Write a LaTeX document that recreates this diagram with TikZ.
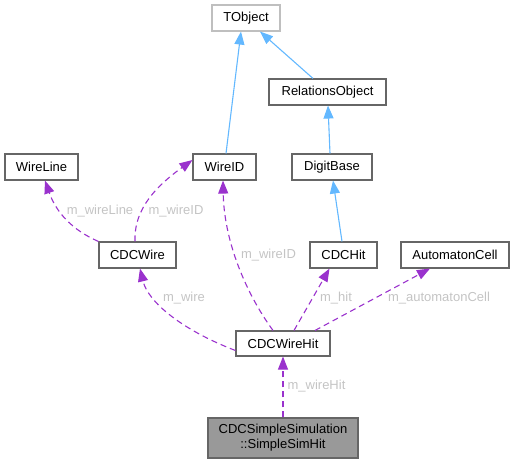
\documentclass[tikz,border=0pt]{standalone}
\usepackage{fontspec}
\setmainfont{Liberation Sans}
\usetikzlibrary{arrows.meta}
\definecolor{inh}{HTML}{63B8FF}
\definecolor{use}{HTML}{9A32CD}
\definecolor{lbl}{HTML}{C4C4C4}
\definecolor{bord}{HTML}{666666}
\definecolor{tbord}{HTML}{BFBFBF}
\begin{document}
\begin{tikzpicture}[x=1pt,y=-1pt,
  cls/.style={draw=bord,line width=1.1pt,fill=white,inner sep=0pt,minimum height=26pt,font=\fontsize{13}{15}\selectfont},
  inhedge/.style={draw=inh,line width=1.1pt,-{Triangle[length=13pt,width=10pt]}},
  useedge/.style={draw=use,line width=1.1pt,dash pattern=on 6pt off 4pt,-{Triangle[length=13pt,width=10pt,fill=use]}},
  elabel/.style={text=lbl,font=\fontsize{13}{15}\selectfont,inner sep=0pt}]
\useasboundingbox (0,0) rectangle (515,464);
\node[cls,draw=tbord,minimum width=68pt] (tob) at (246,18) {TObject};
\node[cls,minimum width=117pt] (rel) at (327.5,92) {RelationsObject};
\node[cls,minimum width=73pt] (wl) at (41.5,167) {WireLine};
\node[cls,minimum width=63pt] (wid) at (224.5,167) {WireID};
\node[cls,minimum width=80pt] (db) at (332,167) {DigitBase};
\node[cls,minimum width=77pt] (cw) at (137.5,255) {CDCWire};
\node[cls,minimum width=67pt] (ch) at (343.5,255) {CDCHit};
\node[cls,minimum width=108pt] (ac) at (455,255) {AutomatonCell};
\node[cls,minimum width=94pt,minimum height=25pt] (cwh) at (283,343.5) {CDCWireHit};
\node[cls,fill=black!40,minimum width=150pt,minimum height=40pt,align=center] (ssh) at (283,438) {CDCSimpleSimulation\\::SimpleSimHit};
% inheritance
\draw[inhedge] ([xshift=1.5pt]wid.north) -- ([xshift=-5pt]tob.south);
\draw[inhedge] ([xshift=-14.5pt]rel.north) -- ([xshift=14pt]tob.south);
\draw[inhedge] ([xshift=-2pt]db.north) -- ([xshift=0.5pt]rel.south);
\draw[inhedge] ([xshift=-1.5pt]ch.north) -- ([xshift=1pt]db.south);
% usage
\draw[useedge] (cw.north west) .. controls (72,230) and (56,212) .. ([xshift=3.5pt]wl.south);
\draw[useedge] ([xshift=-2.5pt]cw.north) .. controls (134,215) and (148,192) .. ([yshift=7pt]wid.west);
\draw[useedge] ([xshift=-10pt]cwh.north) .. controls (245,292) and (224,240) .. ([xshift=-1.5pt]wid.south);
\draw[useedge] ([yshift=-7pt]cwh.west) .. controls (182,330) and (148,302) .. ([xshift=2.5pt]cw.south);
\draw[useedge] ([xshift=11pt]cwh.north) -- ([xshift=-14pt]ch.south);
\draw[useedge] ([xshift=32pt]cwh.north) -- ([xshift=-25pt]ac.south);
\draw[useedge] (ssh.north) -- (cwh.south);
% labels
\node[elabel] (l1) at (100,211) {m\_wireLine};
\node[elabel] (l2) at (176,211) {m\_wireID};
\node[elabel] (l3) at (268.5,255) {m\_wireID};
\node[elabel] (l4) at (184,298) {m\_wire};
\node[elabel] (l5) at (336,298) {m\_hit};
\node[elabel] (l6) at (439,298) {m\_automatonCell};
\node[elabel] (l7) at (316.5,386) {m\_wireHit};
\end{tikzpicture}
\end{document}
